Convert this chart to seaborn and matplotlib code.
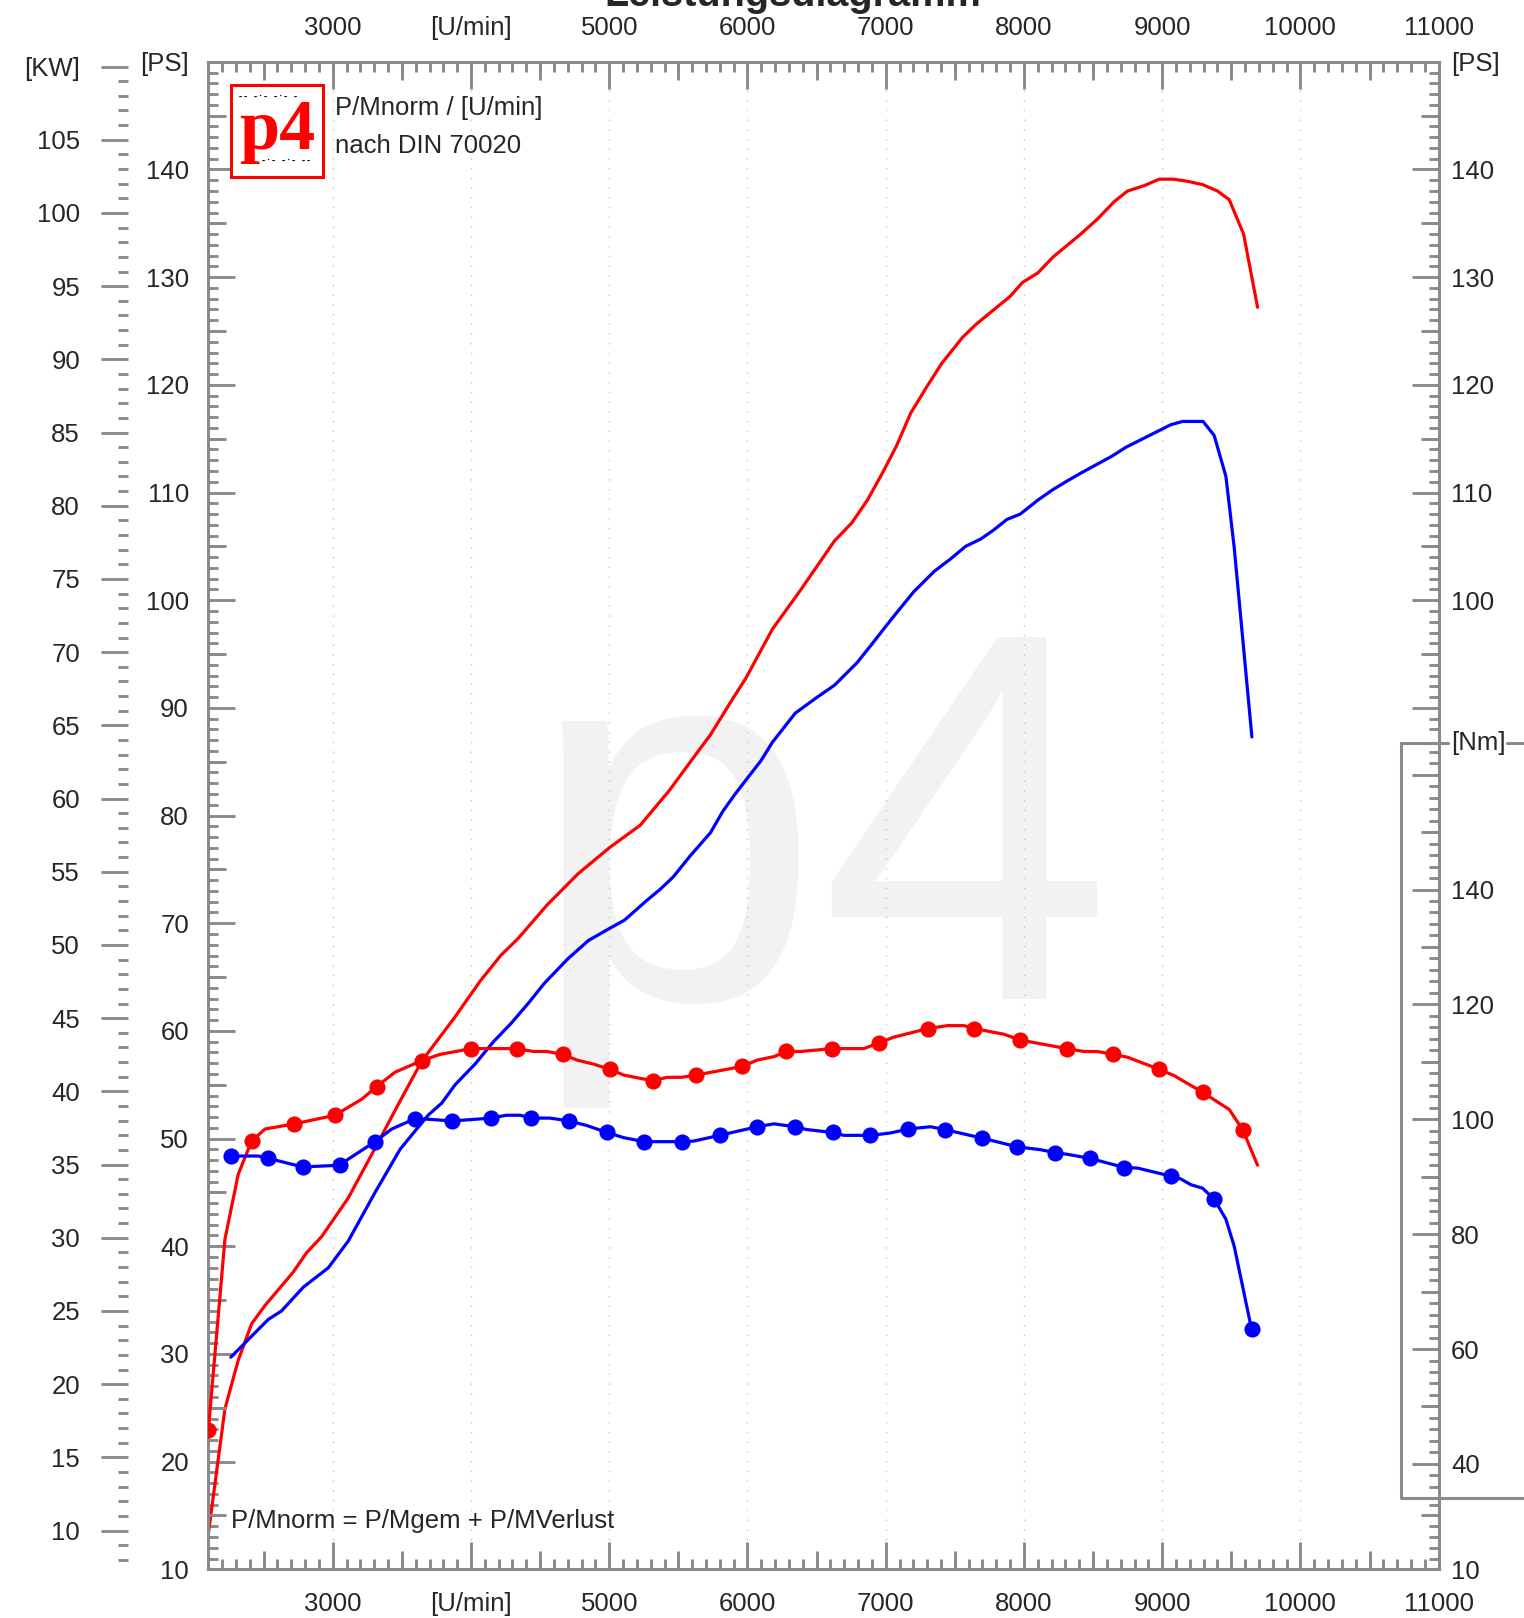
import numpy as np
import matplotlib
matplotlib.use("Agg")
import matplotlib.pyplot as plt
from matplotlib.lines import Line2D
from matplotlib.patches import Rectangle
from matplotlib.ticker import FixedLocator
import seaborn as sns

# ---- data ----
# power curves [U/min] -> [PS]
rpm_pwr_red = [2100, 2220, 2316, 2413, 2510, 2714, 2811, 2920, 3113, 3306, 3475, 3644, 3879, 4065,
               4215, 4342, 4551, 4775, 5000, 5224, 5433, 5582, 5732, 5896, 5986, 6180, 6382, 6629,
               6756, 6868, 6980, 7077, 7182, 7301, 7406, 7555, 7652, 7765, 7899, 7989, 8101, 8213,
               8411, 8532, 8652, 8749, 8870, 8978, 9082, 9184, 9292, 9400, 9485, 9589, 9690]
ps_red = [13.3, 24.9, 29.4, 32.8, 34.5, 37.6, 39.4, 40.9, 44.5, 49.1, 53.2, 57.2, 61.2, 64.6,
          67.0, 68.6, 71.7, 74.6, 77.0, 79.1, 82.3, 84.9, 87.5, 90.9, 92.7, 97.3, 100.9, 105.5,
          107.2, 109.3, 111.9, 114.3, 117.4, 119.9, 122.0, 124.4, 125.6, 126.8, 128.2, 129.5, 130.4, 131.9,
          134.0, 135.4, 137.0, 138.0, 138.5, 139.1, 139.1, 138.9, 138.6, 138.0, 137.2, 134.0, 127.2]

rpm_pwr_blue = [2263, 2425, 2533, 2630, 2787, 2968, 3113, 3306, 3487, 3595, 3692, 3789, 3885, 4028,
                4163, 4290, 4417, 4529, 4701, 4850, 5000, 5112, 5261, 5373, 5463, 5582, 5732, 5822,
                5911, 6001, 6098, 6180, 6345, 6494, 6629, 6793, 6905, 7002, 7077, 7204, 7353, 7466,
                7578, 7690, 7779, 7877, 7974, 8101, 8213, 8303, 8411, 8640, 8737, 9063, 9147, 9296,
                9376, 9461, 9521, 9649]
ps_blue = [29.7, 31.8, 33.2, 34.0, 36.2, 38.0, 40.5, 45.0, 49.0, 50.7, 52.2, 53.3, 55.0, 56.9,
           59.0, 60.7, 62.6, 64.4, 66.7, 68.4, 69.5, 70.3, 72.0, 73.2, 74.3, 76.2, 78.4, 80.4,
           82.0, 83.5, 85.1, 86.8, 89.5, 90.9, 92.1, 94.2, 96.0, 97.6, 98.8, 100.8, 102.7, 103.8,
           105.0, 105.7, 106.5, 107.5, 108.0, 109.3, 110.3, 111.0, 111.8, 113.4, 114.2, 116.3, 116.6, 116.6,
           115.3, 111.5, 104.9, 87.3]

# torque curves [U/min] -> [Nm]
rpm_trq_red = [2100, 2220, 2316, 2413, 2510, 2722, 3016, 3210, 3318, 3451, 3644, 3777, 4001, 4332,
               4452, 4549, 4665, 4766, 4887, 5003, 5104, 5314, 5418, 5523, 5630, 5963, 6070, 6191,
               6282, 6384, 6613, 6842, 6951, 7059, 7306, 7447, 7567, 7639, 7856, 7972, 8310, 8434,
               8531, 8643, 8749, 8978, 9086, 9292, 9485, 9582, 9690]
nm_red = [45.9, 79.1, 90.4, 96.2, 98.3, 99.2, 100.7, 103.5, 105.7, 108.2, 110.2, 111.3, 112.3, 112.3,
          111.8, 111.8, 111.3, 110.3, 109.6, 108.7, 107.7, 106.7, 107.3, 107.3, 107.7, 109.2, 110.3, 110.9,
          111.8, 111.8, 112.3, 112.3, 113.3, 114.3, 115.8, 116.3, 116.3, 115.8, 114.8, 113.8, 112.3, 111.8,
          111.8, 111.3, 110.8, 108.7, 107.6, 104.7, 101.7, 98.2, 92.0]
rpm_pts_red = [2100, 2413, 2722, 3016, 3318, 3644, 4001, 4332, 4665, 5003, 5314, 5630, 5963, 6282,
               6613, 6951, 7306, 7639, 7972, 8310, 8643, 8978, 9292, 9582]
nm_pts_red = [45.9, 96.2, 99.2, 100.7, 105.7, 110.2, 112.3, 112.3, 111.3, 108.7, 106.7, 107.7, 109.2, 111.8,
              112.3, 113.3, 115.8, 115.8, 113.8, 112.3, 111.3, 108.7, 104.7, 98.2]

rpm_trq_blue = [2263, 2461, 2533, 2782, 2968, 3053, 3115, 3306, 3426, 3595, 3692, 3861, 4144, 4256,
                4356, 4435, 4573, 4711, 4839, 4984, 5104, 5254, 5526, 5611, 5799, 6070, 6191, 6342,
                6431, 6617, 6697, 6890, 7032, 7163, 7324, 7428, 7700, 7952, 8120, 8223, 8314, 8476,
                8727, 8822, 9063, 9135, 9208, 9292, 9376, 9461, 9521, 9647]
nm_blue = [93.6, 93.6, 93.2, 91.7, 91.9, 92.0, 93.1, 96.1, 98.3, 100.1, 100.0, 99.7, 100.2, 100.7,
           100.7, 100.2, 100.2, 99.7, 98.9, 97.7, 96.8, 96.1, 96.1, 96.2, 97.2, 98.7, 99.2, 98.7,
           98.2, 97.7, 97.2, 97.2, 97.6, 98.3, 98.7, 98.2, 96.7, 95.2, 94.7, 94.2, 93.9, 93.2,
           91.6, 91.5, 90.1, 89.6, 88.6, 88.0, 86.1, 82.6, 77.9, 63.4]
rpm_pts_blue = [2263, 2533, 2782, 3053, 3306, 3595, 3861, 4144, 4435, 4711, 4984, 5254, 5526, 5799,
                6070, 6342, 6617, 6890, 7163, 7428, 7700, 7952, 8223, 8476, 8727, 9063, 9376, 9647]
nm_pts_blue = [93.6, 93.2, 91.7, 92.0, 96.1, 100.1, 99.7, 100.2, 100.2, 99.7, 97.7, 96.1, 96.1, 97.2,
               98.7, 98.7, 97.7, 97.2, 98.3, 98.2, 96.7, 95.2, 94.2, 93.2, 91.6, 90.1, 86.1, 63.4]

# axis ticks / labels
rpm_ticks = [3000, 4000, 5000, 6000, 7000, 8000, 9000, 10000, 11000]
rpm_labels = ["3000", "[U/min]", "5000", "6000", "7000", "8000", "9000", "10000", "11000"]
ps_ticks = [10, 20, 30, 40, 50, 60, 70, 80, 90, 100, 110, 120, 130, 140, 150]
ps_labels = ["10", "20", "30", "40", "50", "60", "70", "80", "90", "100", "110", "120", "130", "140", "[PS]"]
ps_right_ticks = [10, 90, 100, 110, 120, 130, 140, 150]
ps_right_labels = ["10", "", "100", "110", "120", "130", "140", "[PS]"]
kw_ticks = [10, 15, 20, 25, 30, 35, 40, 45, 50, 55, 60, 65, 70, 75, 80, 85, 90, 95, 100, 105, 110]
kw_labels = ["10", "15", "20", "25", "30", "35", "40", "45", "50", "55", "60", "65", "70", "75",
             "80", "85", "90", "95", "100", "105", "[KW]"]
nm_ticks = [40, 60, 80, 100, 120, 140, 160]
nm_labels = ["40", "60", "80", "100", "120", "140", ""]

PS_TO_KW = 0.7355
RPM_LIM = (2100, 11000)
PS_LIM = (10, 150)
NM_LIM = (21.65, 284.1)

GRAY = "#8a8a8a"
RED = "#ff0000"
BLUE = "#0000ff"
LONG, MED, SHORT, TW = 19.5, 13.3, 7.2, 2.1
FS = 18.5

sns.set_style("white")
plt.rcParams["font.family"] = ["Liberation Sans", "DejaVu Sans"]

fig = plt.figure(figsize=(15.24, 16.18), dpi=100)
rect = [0.1367, 0.0301, 0.8073, 0.9317]

ax = fig.add_axes(rect, label="main")


def overlay(name, ylim):
    a = fig.add_axes(rect, label=name, frameon=False)
    a.set_xlim(*RPM_LIM)
    a.set_ylim(*ylim)
    a.set_xticks([])
    a.set_yticks([])
    return a


# watermark and grid
ax.text(0.346, 0.3826, "p4", transform=fig.transFigure, fontsize=379, color="#f2f2f2",
        ha="left", va="baseline", zorder=0)
ax.grid(axis="x", which="major", color="#c4c4c4", linestyle=(0, (1, 6)), linewidth=1)
ax.set_axisbelow(True)

# power curves
sns.lineplot(x=np.array(rpm_pwr_red), y=np.array(ps_red), ax=ax, color=RED, linewidth=2.3,
             estimator=None, sort=False)
sns.lineplot(x=np.array(rpm_pwr_blue), y=np.array(ps_blue), ax=ax, color=BLUE, linewidth=2.3,
             estimator=None, sort=False)

ax.set_xlim(*RPM_LIM)
ax.set_ylim(*PS_LIM)
ax.set_xlabel("")
ax.set_ylabel("")
for sp in ax.spines.values():
    sp.set_color(GRAY)
    sp.set_linewidth(2.2)

ax.set_xticks(rpm_ticks, labels=rpm_labels)
ax.xaxis.set_minor_locator(FixedLocator(list(range(2100, 11001, 100))))
ax.tick_params(axis="x", which="both", direction="in", top=True, bottom=True,
               labeltop=True, labelbottom=True, color=GRAY, width=TW)
ax.tick_params(axis="x", which="major", length=LONG, labelsize=FS, pad=16)
ax.tick_params(axis="x", which="minor", length=SHORT)
for t in ax.xaxis.get_major_ticks():
    t.label2.set_y(1.0)
ax.xaxis.get_major_ticks()
for t in ax.xaxis.get_major_ticks():
    t.set_pad(16)

ax.set_yticks(ps_ticks, labels=ps_labels)
ax.yaxis.set_minor_locator(FixedLocator(list(range(10, 151))))
ax.tick_params(axis="y", which="both", direction="in", left=True, right=False,
               labelleft=True, labelright=False, color=GRAY, width=TW)
ax.tick_params(axis="y", which="major", length=LONG, labelsize=FS, pad=14)
ax.tick_params(axis="y", which="minor", length=SHORT)

# medium ticks (x both sides, left PS)
ax_mid = overlay("mid", PS_LIM)
ax_mid.set_xticks(list(range(2500, 11000, 1000)))
ax_mid.set_yticks(list(range(15, 150, 10)))
ax_mid.tick_params(axis="both", direction="in", top=True, bottom=True, left=True, right=False,
                   labelbottom=False, labelleft=False, length=MED, color=GRAY, width=TW)

# right PS ticks (only outside the Nm block)
ax_r = overlay("right_ps", PS_LIM)
ax_r.yaxis.tick_right()
ax_r.set_yticks(ps_right_ticks, labels=ps_right_labels)
ax_r.yaxis.set_minor_locator(FixedLocator(list(range(10, 17)) + list(range(88, 151))))
ax_r.tick_params(axis="y", which="both", direction="in", left=False, right=True,
                 labelleft=False, labelright=True, color=GRAY, width=TW)
ax_r.tick_params(axis="y", which="major", length=LONG, labelsize=FS, pad=9)
ax_r.tick_params(axis="y", which="minor", length=SHORT)

ax_rm = overlay("right_ps_mid", PS_LIM)
ax_rm.yaxis.tick_right()
ax_rm.set_yticks([15] + list(range(95, 150, 10)))
ax_rm.tick_params(axis="y", direction="in", left=False, right=True, labelleft=False,
                  labelright=False, length=MED, color=GRAY, width=TW)

# torque on Nm scale
ax_nm = overlay("nm", NM_LIM)
sns.lineplot(x=np.array(rpm_trq_red), y=np.array(nm_red), ax=ax_nm, color=RED, linewidth=2.3,
             estimator=None, sort=False)
sns.lineplot(x=np.array(rpm_trq_blue), y=np.array(nm_blue), ax=ax_nm, color=BLUE, linewidth=2.3,
             estimator=None, sort=False)
sns.scatterplot(x=np.array(rpm_pts_red), y=np.array(nm_pts_red), ax=ax_nm, color=RED, s=135,
                linewidth=0, zorder=3)
sns.scatterplot(x=np.array(rpm_pts_blue), y=np.array(nm_pts_blue), ax=ax_nm, color=BLUE, s=135,
                linewidth=0, zorder=3)
ax_nm.set_xlim(*RPM_LIM)
ax_nm.set_ylim(*NM_LIM)
ax_nm.set_xlabel("")
ax_nm.set_ylabel("")
ax_nm.set_xticks([])
ax_nm.yaxis.tick_right()
ax_nm.set_yticks(nm_ticks, labels=nm_labels)
ax_nm.yaxis.set_minor_locator(FixedLocator(list(range(36, 165, 2))))
ax_nm.tick_params(axis="y", which="both", direction="in", left=False, right=True,
                  labelleft=False, labelright=True, color=GRAY, width=TW)
ax_nm.tick_params(axis="y", which="major", length=LONG, labelsize=FS, pad=9)
ax_nm.tick_params(axis="y", which="minor", length=SHORT)

ax_nmm = overlay("nm_mid", NM_LIM)
ax_nmm.yaxis.tick_right()
ax_nmm.set_yticks(list(range(50, 160, 20)))
ax_nmm.tick_params(axis="y", direction="in", left=False, right=True, labelleft=False,
                   labelright=False, length=MED, color=GRAY, width=TW)

# KW scale on the far left (no spine)
ax_kw = fig.add_axes([0.0840, rect[1], 0.01, rect[3]], label="kw", frameon=False)
ax_kw.set_ylim(PS_LIM[0] * PS_TO_KW, PS_LIM[1] * PS_TO_KW)
ax_kw.set_xticks([])
ax_kw.set_yticks(kw_ticks, labels=kw_labels)
ax_kw.yaxis.set_minor_locator(FixedLocator(list(range(8, 111))))
ax_kw.tick_params(axis="y", which="both", direction="out", left=True, right=False,
                  color=GRAY, width=TW)
ax_kw.tick_params(axis="y", which="major", length=LONG, labelsize=FS, pad=15)
ax_kw.tick_params(axis="y", which="minor", length=SHORT)

# Nm bracket
box_x, box_top, box_bot = 0.9193, 0.5406, 0.0744
fig.add_artist(Line2D([box_x, box_x, 1.0], [box_top, box_bot, box_bot], transform=fig.transFigure,
                      color=GRAY, linewidth=2.2))
fig.add_artist(Line2D([box_x, 0.9501], [box_top, box_top], transform=fig.transFigure,
                      color=GRAY, linewidth=2.2))
fig.add_artist(Line2D([0.9886, 1.0], [box_top, box_top], transform=fig.transFigure,
                      color=GRAY, linewidth=2.2))
fig.text(0.9519, box_top, "[Nm]", ha="left", va="center", fontsize=FS)

# texts
fig.text(0.520, 0.9965, "Leistungsdiagramm", ha="center", va="baseline", fontsize=28.5,
         fontweight="bold")
fig.text(0.2201, 0.933, "P/Mnorm / [U/min]", ha="left", va="center", fontsize=FS)
fig.text(0.2201, 0.910, "nach DIN 70020", ha="left", va="center", fontsize=FS)
fig.text(0.1517, 0.0600, "P/Mnorm = P/Mgem + P/MVerlust", ha="left", va="center", fontsize=FS)

# logo
fig.add_artist(Rectangle((0.1517, 0.8909), 0.0602, 0.0568, transform=fig.transFigure,
                         facecolor="white", edgecolor=RED, linewidth=2.2, zorder=5))
fig.text(0.1818, 0.9080, "p4", ha="center", va="baseline", fontsize=52, color=RED,
         fontweight="bold", family=["Liberation Serif", "DejaVu Serif"], zorder=6)
fig.text(0.1560, 0.9405, "-- -·- -·- -", ha="left", va="center", fontsize=6, color="black",
         fontweight="bold", family=["DejaVu Sans Mono"], zorder=7)
fig.text(0.1715, 0.9010, "-·- -·- --", ha="left", va="center", fontsize=6, color="black",
         fontweight="bold", family=["DejaVu Sans Mono"], zorder=7)

fig.savefig("out.png", dpi=100)
